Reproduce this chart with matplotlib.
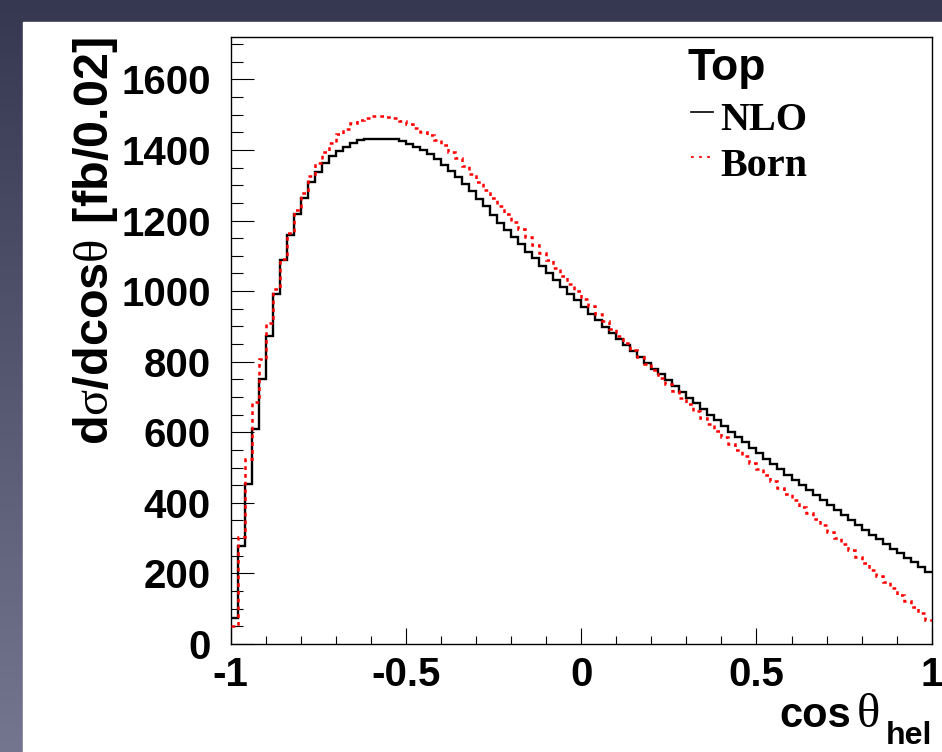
import numpy as np
import matplotlib
matplotlib.use("Agg")
import matplotlib.pyplot as plt
from matplotlib.lines import Line2D
from matplotlib.patches import Rectangle
from matplotlib.ticker import MultipleLocator, FixedLocator, FixedFormatter

# ---------------- data ----------------
bin_lo, bin_hi, n_bins = -1.0, 1.0, 100
nlo = [75, 278, 452, 608, 750, 874, 993, 1087, 1160, 1218,
       1263, 1308, 1338, 1364, 1383, 1396, 1408, 1420, 1427, 1431,
       1432, 1432, 1432, 1430, 1425, 1417, 1408, 1399, 1388, 1373,
       1356, 1339, 1322, 1304, 1284, 1262, 1240, 1216, 1194, 1173,
       1153, 1133, 1112, 1093, 1071, 1052, 1032, 1013, 993, 974,
       956, 936, 918, 899, 881, 864, 847, 830, 813, 797,
       780, 764, 747, 731, 714, 698, 682, 666, 650, 634,
       618, 602, 586, 571, 555, 540, 525, 510, 495, 480,
       465, 451, 436, 422, 408, 393, 379, 365, 351, 338,
       324, 310, 297, 283, 270, 257, 244, 231, 218, 205]
born = [52, 304, 524, 685, 807, 909, 1007, 1092, 1166, 1229,
        1279, 1325, 1363, 1393, 1421, 1444, 1460, 1475, 1484, 1491,
        1495, 1496, 1494, 1490, 1482, 1474, 1463, 1452, 1441, 1428,
        1413, 1395, 1376, 1355, 1332, 1310, 1287, 1265, 1242, 1219,
        1197, 1175, 1153, 1130, 1108, 1087, 1065, 1043, 1021, 1000,
        979, 957, 936, 915, 894, 874, 854, 834, 814, 794,
        775, 755, 736, 717, 698, 679, 660, 641, 623, 604,
        586, 568, 550, 532, 514, 496, 478, 461, 443, 425,
        407, 389, 372, 354, 336, 318, 300, 283, 265, 247,
        229, 211, 194, 176, 158, 140, 122, 105, 87, 69]
x_ticks = [-1, -0.5, 0, 0.5, 1]
x_tick_labels = ["-1", "-0.5", "0", "0.5", "1"]
y_ticks = [0, 200, 400, 600, 800, 1000, 1200, 1400, 1600]
y_tick_labels = ["0", "200", "400", "600", "800", "1000", "1200", "1400", "1600"]
legend_title = "Top"
series_names = ["NLO", "Born"]

# ---------------- style ----------------
plt.rcParams['font.family'] = ['Liberation Sans', 'DejaVu Sans']
plt.rcParams['mathtext.fontset'] = 'custom'
plt.rcParams['mathtext.rm'] = 'Liberation Serif'
plt.rcParams['mathtext.bf'] = 'Liberation Sans:bold'
plt.rcParams['mathtext.default'] = 'rm'

W, H = 942, 752
fig = plt.figure(figsize=(W / 100, H / 100), dpi=100)

def fx(px):
    return px / W

def fy(py):
    return 1 - py / H

# slide background gradient
bg = fig.add_axes([0, 0, 1, 1], zorder=-10)
grad = np.linspace(0, 1, 256).reshape(-1, 1)
top_c = np.array([0x36, 0x38, 0x52]) / 255
bot_c = np.array([0x74, 0x76, 0x90]) / 255
img = top_c[None, None, :] * (1 - grad[:, :, None]) + bot_c[None, None, :] * grad[:, :, None]
bg.imshow(img, aspect='auto', extent=[0, 1, 0, 1], origin='upper')
bg.add_patch(Rectangle((fx(23), 0), 1 - fx(23), fy(22), color='white', zorder=2))
bg.set_xlim(0, 1)
bg.set_ylim(0, 1)
bg.axis('off')

# main axes
left, right, top, bottom = 230.7, 931.7, 37, 644
ax = fig.add_axes([fx(left), fy(bottom), fx(right - left), fy(top) - fy(bottom)])
ax.set_facecolor('none')

edges = np.linspace(bin_lo, bin_hi, n_bins + 1)
ax.stairs(nlo, edges, baseline=None, color='black', lw=1.7, zorder=3)
ax.stairs(born, edges, baseline=None, color='#ff0000', lw=1.8,
          linestyle=(0, (1.5, 1.6)), zorder=4)

ax.set_xlim(-1, 1)
ax.set_ylim(0, 1720)

ax.xaxis.set_major_locator(FixedLocator(x_ticks))
ax.xaxis.set_major_formatter(FixedFormatter(x_tick_labels))
ax.xaxis.set_minor_locator(MultipleLocator(0.1))
ax.yaxis.set_major_locator(FixedLocator(y_ticks))
ax.yaxis.set_major_formatter(FixedFormatter(y_tick_labels))
ax.yaxis.set_minor_locator(MultipleLocator(50))

ax.tick_params(axis='both', which='both', direction='in', top=False, right=False,
               width=0.8, color='black')
ax.tick_params(axis='x', which='major', length=11.3, pad=9, labelsize=29)
ax.tick_params(axis='x', which='minor', length=5.5)
ax.tick_params(axis='y', which='major', length=16.5, pad=14.5, labelsize=29)
ax.tick_params(axis='y', which='minor', length=8.5)
for lab in ax.get_xticklabels() + ax.get_yticklabels():
    lab.set_fontweight('bold')
for sp in ax.spines.values():
    sp.set_linewidth(1.0)
    sp.set_color('black')

# y-axis title
fig.text(fx(108), fy(37),
         r'$\mathbf{d}\sigma\mathbf{/dcos}\theta\mathbf{\ [fb/0.02]}$',
         rotation=90, rotation_mode='anchor', ha='right', va='baseline',
         fontsize=35, color='black')

# x-axis title: cos theta_hel
fig.text(fx(851), fy(727), 'cos', ha='right', va='baseline', fontsize=30,
         fontweight='bold', color='black')
fig.text(fx(868), fy(727), '\u03b8', ha='center', va='baseline', fontsize=35,
         family='Liberation Serif', color='black')
fig.text(fx(932), fy(744), 'hel', ha='right', va='baseline', fontsize=23,
         fontweight='bold', color='black')

# legend
fig.text(fx(688), fy(80), legend_title, ha='left', va='baseline', fontsize=32,
         fontweight='bold', color='black')
fig.text(fx(720), fy(130), series_names[0], ha='left', va='baseline', fontsize=29,
         fontweight='bold', family='Liberation Serif', color='black')
fig.text(fx(720), fy(176), series_names[1], ha='left', va='baseline', fontsize=29,
         fontweight='bold', family='Liberation Serif', color='black')
fig.add_artist(Line2D([fx(691), fx(713)], [fy(112), fy(112)], color='black', lw=1.2))
fig.add_artist(Line2D([fx(691), fx(713)], [fy(157), fy(157)], color='#ff0000', lw=1.3,
                      linestyle=(0, (1.5, 3.0))))

fig.savefig('out.png', dpi=100)
